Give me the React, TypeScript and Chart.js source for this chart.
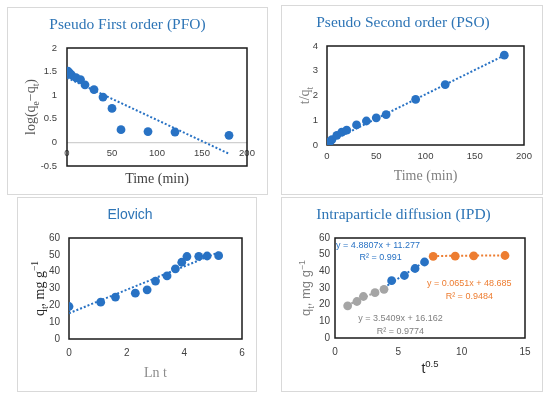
import React, { useEffect, useRef } from 'react';
import { Chart, registerables } from 'chart.js';
Chart.register(...registerables);

// ---------------- data ----------------
const timeMin = [1, 3, 5, 10, 15, 20, 30, 40, 50, 60, 90, 120, 180];
const lnT = [0, 1.1, 1.61, 2.3, 2.71, 3.0, 3.4, 3.69, 3.91, 4.09, 4.5, 4.79, 5.19];
const sqrtT = [1, 1.73, 2.24, 3.16, 3.87, 4.47, 5.48, 6.32, 7.07, 7.75, 9.49, 10.95, 13.42];

const pfoLog = [1.51, 1.47, 1.43, 1.37, 1.33, 1.22, 1.12, 0.96, 0.72, 0.27, 0.23, 0.22, 0.15];
const psoTq = [0.06, 0.14, 0.22, 0.39, 0.52, 0.6, 0.81, 0.97, 1.1, 1.23, 1.84, 2.44, 3.63];
const qt = [19.3, 21.9, 24.9, 27.2, 29.2, 34.4, 37.5, 41.7, 45.6, 49.0, 49.1, 49.3, 49.5];

// trendline end points
const pfoTrendX = [0, 180];
const pfoTrendY = [1.37, -0.24];
const psoTrendX = [0, 180];
const psoTrendY = [0.08, 3.62];
const eloTrendX = [0, 5.19];
const eloTrendY = [15.3, 51.5];
const ipdGreyTrendX = [1, 3.87];
const ipdGreyTrendY = [19.7, 29.9];
const ipdBlueTrendX = [3.87, 7.07];
const ipdBlueTrendY = [30.2, 45.8];
const ipdOrangeTrendX = [7.75, 13.42];
const ipdOrangeTrendY = [49.2, 49.6];

// IPD stage split (indices)
const ipdGreyIdx = [0, 1, 2, 3, 4];
const ipdBlueIdx = [5, 6, 7, 8];
const ipdOrangeIdx = [9, 10, 11, 12];

// tick values
const pfoXTicks = [0, 50, 100, 150, 200];
const pfoYTicks = [-0.5, 0, 0.5, 1, 1.5, 2];
const psoXTicks = [0, 50, 100, 150, 200];
const psoYTicks = [0, 1, 2, 3, 4];
const eloXTicks = [0, 2, 4, 6];
const eloYTicks = [0, 10, 20, 30, 40, 50, 60];
const ipdXTicks = [0, 5, 10, 15];
const ipdYTicks = [0, 10, 20, 30, 40, 50, 60];

// equation labels (IPD)
const ipdNoteTexts = [
  'y = 4.8807x + 11.277',
  'R² = 0.991',
  'y = 0.0651x + 48.685',
  'R² = 0.9484',
  'y = 3.5409x + 16.162',
  'R² = 0.9774',
];
const ipdNoteX = [3.4, 3.6, 10.6, 10.6, 5.17, 5.17];
const ipdNoteY = [55.3, 48.1, 32.5, 24.7, 11.6, 3.8];

// ---------------- styles ----------------
const SERIF = "'Liberation Serif', 'Times New Roman', serif";
const SANS = "'Liberation Sans', Arial, sans-serif";
const TITLE_BLUE = '#2e75b6';
const PT_BLUE = '#2872c4';
const ORANGE = '#ed7d31';
const GREY = '#a5a5a5';

type Seg = { t: string; s?: 'sub' | 'sup' };

function drawRich(
  ctx: CanvasRenderingContext2D,
  segs: Seg[],
  family: string,
  size: number,
  color: string,
  cx: number,
  cy: number,
  rotate: boolean
) {
  ctx.save();
  ctx.translate(cx, cy);
  if (rotate) ctx.rotate(-Math.PI / 2);
  const small = size * 0.68;
  const widths = segs.map((sg) => {
    ctx.font = `${sg.s ? small : size}px ${family}`;
    return ctx.measureText(sg.t).width;
  });
  const total = widths.reduce((a, b) => a + b, 0);
  let x = -total / 2;
  const base = size * 0.33;
  ctx.fillStyle = color;
  ctx.textBaseline = 'alphabetic';
  ctx.textAlign = 'left';
  segs.forEach((sg, i) => {
    ctx.font = `${sg.s ? small : size}px ${family}`;
    const dy = sg.s === 'sub' ? size * 0.28 : sg.s === 'sup' ? -size * 0.4 : 0;
    ctx.fillText(sg.t, x, base + dy);
    x += widths[i];
  });
  ctx.restore();
}

interface Note { text: string; x: number; y: number; color: string }

interface PanelSpec {
  rect: [number, number, number, number];
  title: string;
  titleFamily: string;
  titleSize: number;
  xMin: number; xMax: number; xTicks: number[];
  yMin: number; yMax: number; yTicks: number[];
  yWidth: number; xHeight: number; padRight: number;
  xTickPad: number; xMirror?: boolean; yTickPad: number; tickSize: number; tickColor: string;
  xTitle: Seg[]; xTitleFamily: string; xTitleSize: number; xTitleColor: string; xTitleY: number;
  yTitle: Seg[]; yTitleFamily: string; yTitleSize: number; yTitleColor: string; yTitleX: number;
  datasets: any[];
  zeroLine?: boolean;
  notes?: Note[];
}

const pts = (xs: number[], ys: number[]) => xs.map((x, i) => ({ x, y: ys[i] }));

const pointSet = (xs: number[], ys: number[], color: string) => ({
  data: pts(xs, ys),
  backgroundColor: color,
  borderColor: color,
  pointRadius: 4.4,
  pointBorderWidth: 0,
  showLine: false,
  order: 0,
});
const trendSet = (xs: number[], ys: number[], color: string) => ({
  data: pts(xs, ys),
  borderColor: color,
  backgroundColor: color,
  borderWidth: 2,
  borderDash: [2, 2],
  pointRadius: 0,
  showLine: true,
  fill: false,
  order: 1,
});

const pick = (arr: number[], idx: number[]) => idx.map((i) => arr[i]);

const panels: PanelSpec[] = [
  {
    rect: [7, 7, 261, 188],
    title: 'Pseudo First order (PFO)', titleFamily: SERIF, titleSize: 15.5,
    xMin: 0, xMax: 200, xTicks: pfoXTicks,
    yMin: -0.5, yMax: 2, yTicks: pfoYTicks,
    yWidth: 59, xHeight: 28, padRight: 20,
    xTickPad: 7, xMirror: true, yTickPad: 10, tickSize: 9.5, tickColor: '#404040',
    xTitle: [{ t: 'Time (min)' }], xTitleFamily: SERIF, xTitleSize: 14, xTitleColor: '#404040', xTitleY: 170,
    yTitle: [{ t: 'log(q' }, { t: 'e', s: 'sub' }, { t: '−q' }, { t: 't', s: 'sub' }, { t: ')' }],
    yTitleFamily: SERIF, yTitleSize: 14, yTitleColor: '#595959', yTitleX: 22,
    datasets: [pointSet(timeMin, pfoLog, PT_BLUE), trendSet(pfoTrendX, pfoTrendY, PT_BLUE)],
    zeroLine: true,
  },
  {
    rect: [281, 5, 262, 190],
    title: 'Pseudo Second order (PSO)', titleFamily: SERIF, titleSize: 15.5,
    xMin: 0, xMax: 200, xTicks: psoXTicks,
    yMin: 0, yMax: 4, yTicks: psoYTicks,
    yWidth: 45, xHeight: 49, padRight: 18,
    xTickPad: 6, yTickPad: 9, tickSize: 9.5, tickColor: '#404040',
    xTitle: [{ t: 'Time (min)' }], xTitleFamily: SERIF, xTitleSize: 14, xTitleColor: '#808080', xTitleY: 169,
    yTitle: [{ t: 't/q' }, { t: 't', s: 'sub' }],
    yTitleFamily: SERIF, yTitleSize: 14, yTitleColor: '#808080', yTitleX: 22,
    datasets: [pointSet(timeMin, psoTq, PT_BLUE), trendSet(psoTrendX, psoTrendY, PT_BLUE)],
  },
  {
    rect: [17, 197, 240, 195],
    title: 'Elovich', titleFamily: SANS, titleSize: 14,
    xMin: 0, xMax: 6, xTicks: eloXTicks,
    yMin: 0, yMax: 60, yTicks: eloYTicks,
    yWidth: 51, xHeight: 52, padRight: 14,
    xTickPad: 8, yTickPad: 9, tickSize: 10, tickColor: '#404040',
    xTitle: [{ t: 'Ln t' }], xTitleFamily: SERIF, xTitleSize: 14, xTitleColor: '#8c8c8c', xTitleY: 174,
    yTitle: [{ t: 'q' }, { t: 't', s: 'sub' }, { t: ', mg g' }, { t: '−1', s: 'sup' }],
    yTitleFamily: SERIF, yTitleSize: 14, yTitleColor: '#262626', yTitleX: 21,
    datasets: [pointSet(lnT, qt, PT_BLUE), trendSet(eloTrendX, eloTrendY, PT_BLUE)],
  },
  {
    rect: [281, 197, 262, 195],
    title: 'Intraparticle diffusion (IPD)', titleFamily: SERIF, titleSize: 15.5,
    xMin: 0, xMax: 15, xTicks: ipdXTicks,
    yMin: 0, yMax: 60, yTicks: ipdYTicks,
    yWidth: 53, xHeight: 53, padRight: 17,
    xTickPad: 8, yTickPad: 5, tickSize: 10, tickColor: '#404040',
    xTitle: [{ t: 't' }, { t: '0.5', s: 'sup' }], xTitleFamily: SANS, xTitleSize: 14, xTitleColor: '#262626', xTitleY: 170,
    yTitle: [{ t: 'q' }, { t: 't', s: 'sub' }, { t: ', mg g' }, { t: '−1', s: 'sup' }],
    yTitleFamily: SANS, yTitleSize: 13, yTitleColor: '#7f7f7f', yTitleX: 24,
    datasets: [
      pointSet(pick(sqrtT, ipdGreyIdx), pick(qt, ipdGreyIdx), GREY),
      pointSet(pick(sqrtT, ipdBlueIdx), pick(qt, ipdBlueIdx), PT_BLUE),
      pointSet(pick(sqrtT, ipdOrangeIdx), pick(qt, ipdOrangeIdx), ORANGE),
      trendSet(ipdGreyTrendX, ipdGreyTrendY, GREY),
      trendSet(ipdBlueTrendX, ipdBlueTrendY, PT_BLUE),
      trendSet(ipdOrangeTrendX, ipdOrangeTrendY, ORANGE),
    ],
    notes: ipdNoteTexts.map((text, i) => ({
      text,
      x: ipdNoteX[i],
      y: ipdNoteY[i],
      color: i < 2 ? PT_BLUE : i < 4 ? ORANGE : '#7f7f7f',
    })),
  },
];

function buildConfig(p: PanelSpec): any {
  const padTop = 17 - p.titleSize * 0.6;
  const padBottom = 40 - padTop - p.titleSize * 1.2;
  const deco = {
    id: 'deco',
    beforeDatasetsDraw(chart: any) {
      const { ctx, chartArea: a } = chart;
      ctx.save();
      ctx.strokeStyle = '#1a1a1a';
      ctx.lineWidth = 1.5;
      ctx.strokeRect(a.left, a.top, a.right - a.left, a.bottom - a.top);
      ctx.restore();
    },
    afterDatasetsDraw(chart: any) {
      if (!p.notes) return;
      const { ctx } = chart;
      const xs = chart.scales.x;
      const ys = chart.scales.y;
      ctx.save();
      ctx.font = `9px ${SANS}`;
      ctx.textAlign = 'center';
      ctx.textBaseline = 'middle';
      p.notes.forEach((n) => {
        ctx.fillStyle = n.color;
        ctx.fillText(n.text, xs.getPixelForValue(n.x), ys.getPixelForValue(n.y));
      });
      ctx.restore();
    },
    afterDraw(chart: any) {
      const { ctx, chartArea: a } = chart;
      drawRich(ctx, p.xTitle, p.xTitleFamily, p.xTitleSize, p.xTitleColor, (a.left + a.right) / 2, p.xTitleY, false);
      drawRich(ctx, p.yTitle, p.yTitleFamily, p.yTitleSize, p.yTitleColor, p.yTitleX, (a.top + a.bottom) / 2, true);
    },
  };
  return {
    type: 'scatter',
    data: { datasets: p.datasets },
    plugins: [deco],
    options: {
      responsive: false,
      animation: false,
      layout: { padding: { left: 0, right: p.padRight, top: 0, bottom: 0 } },
      plugins: {
        legend: { display: false },
        tooltip: { enabled: false },
        title: {
          display: true,
          text: p.title,
          color: TITLE_BLUE,
          font: { family: p.titleFamily, size: p.titleSize, weight: 'normal' },
          padding: { top: padTop, bottom: padBottom },
        },
      },
      scales: {
        x: {
          type: 'linear',
          position: 'bottom',
          min: p.xMin,
          max: p.xMax,
          afterBuildTicks: (s: any) => { s.ticks = p.xTicks.map((v) => ({ value: v })); },
          afterFit: (s: any) => { s.height = p.xHeight; },
          grid: { display: false, drawTicks: false },
          border: { display: false },
          ticks: {
            autoSkip: false,
            maxRotation: 0,
            mirror: !!p.xMirror,
            padding: p.xTickPad,
            color: p.tickColor,
            font: { family: SANS, size: p.tickSize },
            callback: (v: any) => String(+v),
          },
        },
        y: {
          type: 'linear',
          position: 'left',
          min: p.yMin,
          max: p.yMax,
          afterBuildTicks: (s: any) => { s.ticks = p.yTicks.map((v) => ({ value: v })); },
          afterFit: (s: any) => { s.width = p.yWidth; },
          grid: {
            display: !!p.zeroLine,
            drawTicks: false,
            color: (c: any) => (c.tick && c.tick.value === 0 ? '#d0d0d0' : 'rgba(0,0,0,0)'),
            lineWidth: 1.2,
          },
          border: { display: false },
          ticks: {
            autoSkip: false,
            padding: p.yTickPad,
            color: p.tickColor,
            font: { family: SANS, size: p.tickSize },
            callback: (v: any) => String(+v),
          },
        },
      },
    },
  };
}

function Panel({ spec }: { spec: PanelSpec }) {
  const ref = useRef<HTMLCanvasElement | null>(null);
  const [L, T, W, H] = spec.rect;
  useEffect(() => {
    if (!ref.current) return;
    const chart = new Chart(ref.current, buildConfig(spec));
    return () => chart.destroy();
  }, [spec]);
  return (
    <div
      style={{
        position: 'absolute',
        left: L,
        top: T,
        width: W,
        height: H,
        border: '1px solid #d9d9d9',
        boxSizing: 'border-box',
        background: '#fff',
      }}
    >
      <canvas ref={ref} width={W - 2} height={H - 2} style={{ display: 'block', width: W - 2, height: H - 2 }} />
    </div>
  );
}

export default function App() {
  return (
    <div style={{ position: 'absolute', left: 0, top: 0, width: 550, height: 397, background: '#fff', overflow: 'hidden' }}>
      {panels.map((p, i) => (
        <Panel key={i} spec={p} />
      ))}
    </div>
  );
}
